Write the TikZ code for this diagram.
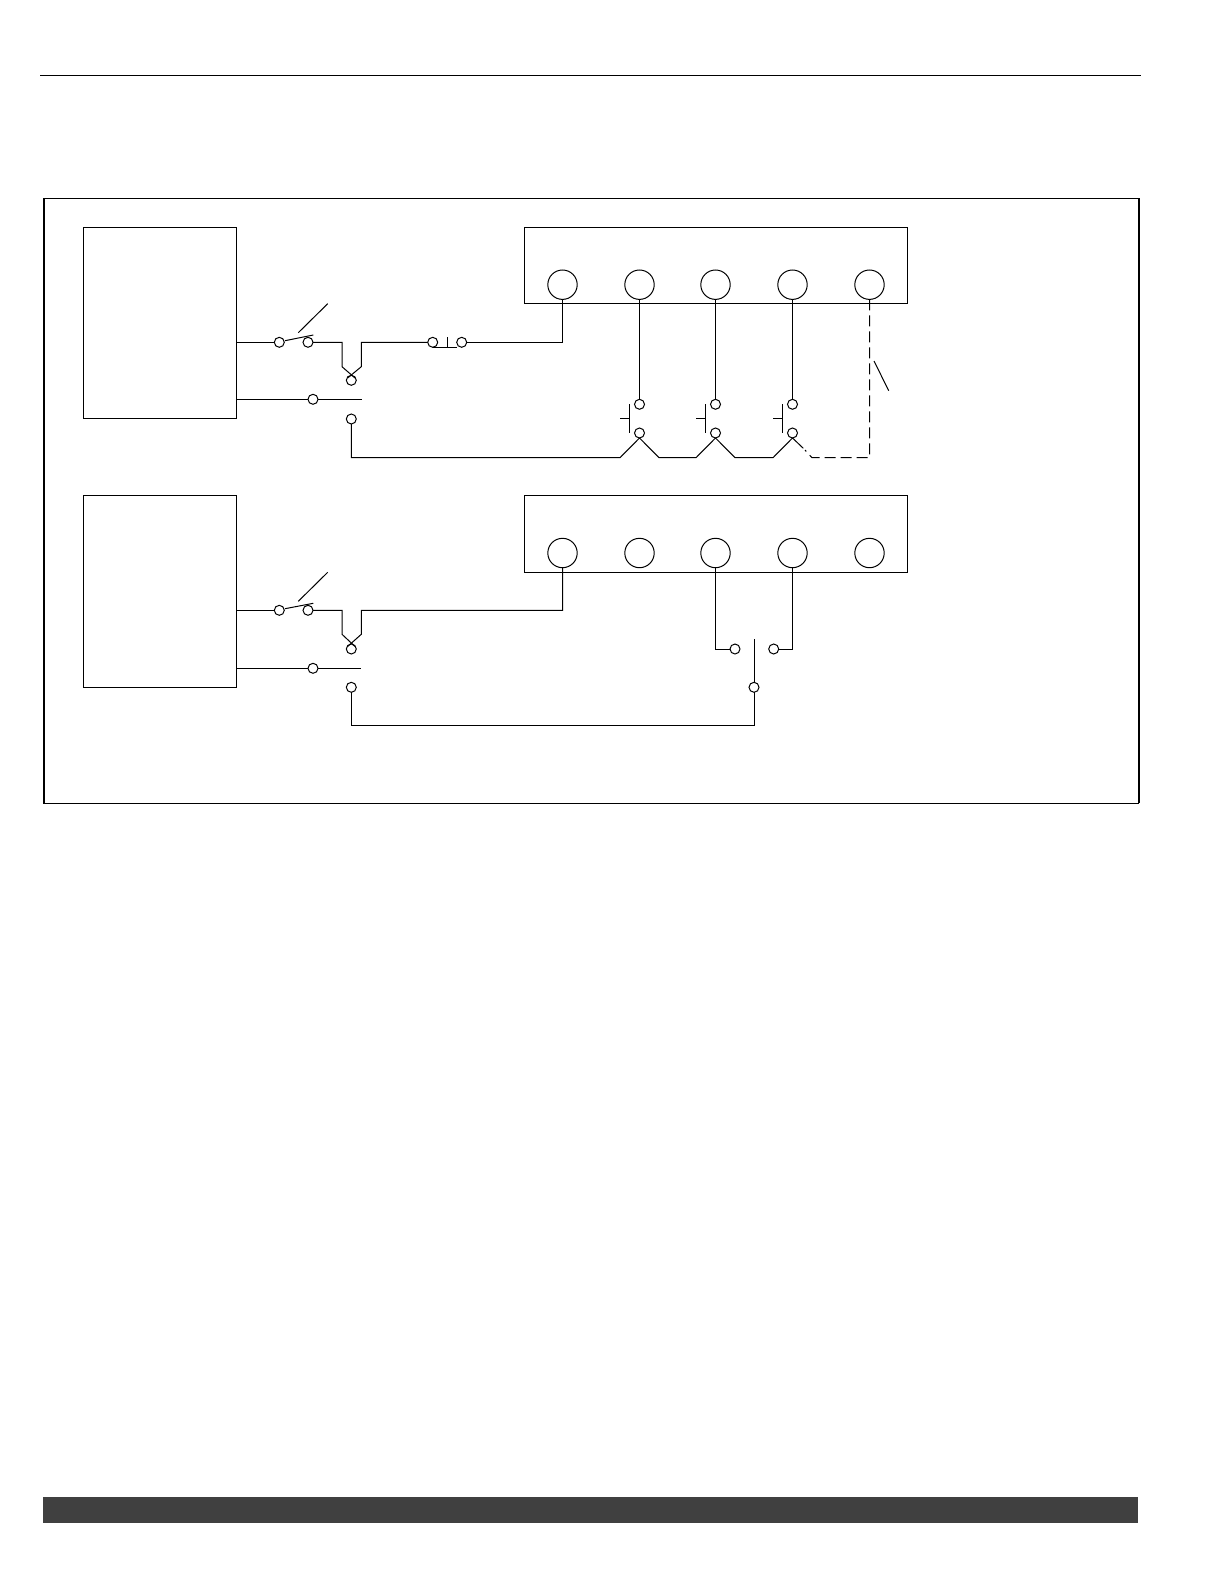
\documentclass[tikz,border=0pt]{standalone}
\begin{document}
\begin{tikzpicture}[
 x=1pt,y=-1pt,
 line width=1pt,
 outer sep=0pt,
 inner sep=0pt,
 frame/.style={draw=black,rectangle,line width=1.2pt,minimum width=1094.7pt,minimum height=605pt},
 source/.style={draw=black,rectangle,minimum width=153.4pt,minimum height=191pt},
 block/.style={draw=black,rectangle,minimum width=383.3pt,minimum height=76.6pt},
 pin/.style={draw=black,circle,minimum size=29.4pt},
 term/.style={draw=black,circle,minimum size=10pt},
 band/.style={fill=black!75,rectangle,minimum width=1095pt,minimum height=26pt}
]
\useasboundingbox (0,0) rectangle (1224,1584);
% page furniture
\coordinate (rule-l) at (40,75.3);
\coordinate (rule-r) at (1141,75.3);
\draw [line width=1.2pt] (rule-l) -- (rule-r);
\node (bottom-band) [band] at (590.5,1510) {};
\node (main-frame) [frame] at (591.35,500.8) {};
\draw [line width=2.5pt] (main-frame.north west) -- (main-frame.south west);
\draw [line width=2pt] (main-frame.north east) -- (main-frame.south east);
% boxes
\node (source1-box) [source] at (160,322.8) {};
\node (source2-box) [source,minimum height=191.6pt] at (160,591.5) {};
\node (block1-box) [block] at (715.65,265.4) {};
\node (block2-box) [block] at (715.65,533.7) {};
\foreach \n/\x in {1/562.5,2/639.5,3/715.5,4/792.5,5/869.5} {
  \node (pin1-\n) [pin] at (\x,284.7) {};
  \node (pin2-\n) [pin] at (\x,553) {};
}
% upper circuit
\node (sw1-a) [term] at (279.3,342.3) {};
\node (sw1-b) [term] at (308,342.3) {};
\node (sw1-low) [term] at (351.3,380.3) {};
\node (sw1-com) [term] at (313,399.3) {};
\node (sw1-nc) [term] at (351.3,419) {};
\node (fuse-a) [term] at (432.7,342.3) {};
\node (fuse-b) [term] at (461.7,342.3) {};
\coordinate (blade1-a) at (285,340.7);
\coordinate (blade1-b) at (313.3,335);
\coordinate (tag1-a) at (298.3,332.7);
\coordinate (tag1-b) at (327.7,303.7);
\coordinate (u1-a) at (342,342.3);
\coordinate (u1-b) at (342,366.7);
\coordinate (u1-c) at (361.3,366.7);
\coordinate (u1-d) at (361.3,342.3);
\coordinate (x1-a) at (355,378);
\coordinate (x1-b) at (347.6,378);
\coordinate (com1-end) at (362,399.3);
\coordinate (fuse-bar-a) at (433.3,347.3);
\coordinate (fuse-bar-b) at (457,347.3);
\coordinate (fuse-bar-c) at (447.3,347.3);
\coordinate (fuse-bar-d) at (447.3,337);
\draw (source1-box.east |- sw1-a) -- (sw1-a);
\draw (blade1-a) -- (blade1-b);
\draw (tag1-a) -- (tag1-b);
\draw (sw1-b) -- (u1-a) -- (u1-b) -- (x1-a);
\draw (x1-b) -- (u1-c) -- (u1-d) -- (fuse-a);
\draw (fuse-bar-a) -- (fuse-bar-b);
\draw (fuse-bar-c) -- (fuse-bar-d);
\draw (fuse-b) -| (pin1-1);
\draw (source1-box.east |- sw1-com) -- (sw1-com) -- (com1-end);
% push buttons
\foreach \n/\x in {2/639.5,3/715.5,4/792.5} {
  \node (btn\n-up) [term] at (\x,404.3) {};
  \node (btn\n-lo) [term] at (\x,433) {};
  \coordinate (bar\n-a) at (\x-9.6,404.3);
  \coordinate (bar\n-b) at (\x-9.6,433.3);
  \coordinate (stub\n-a) at (\x-9.6,418.7);
  \coordinate (stub\n-b) at (\x-19.6,418.7);
  \coordinate (zig\n-l) at (\x-19.3,457.5);
  \coordinate (zig\n-r) at (\x+19.3,457.5);
  \draw (bar\n-a) -- (bar\n-b);
  \draw (stub\n-a) -- (stub\n-b);
  \draw (pin1-\n) -- (btn\n-up);
}
\coordinate (zig-end) at (803.3,448.3);
\coordinate (dash-end) at (805,450);
\draw (sw1-nc) |- (zig2-l) -- (btn2-lo.south) -- (zig2-r) -- (zig3-l) -- (btn3-lo.south) -- (zig3-r) -- (zig4-l) -- (btn4-lo.south) -- (zig-end);
\draw [dash pattern=on 11pt off 5pt] (pin1-5) |- (zig4-r) -- (dash-end);
\coordinate (tag2-a) at (874,361);
\coordinate (tag2-b) at (888.7,390.7);
\draw (tag2-a) -- (tag2-b);
% lower circuit
\node (sw2-a) [term] at (279.3,610.3) {};
\node (sw2-b) [term] at (308,610.3) {};
\node (sw2-low) [term] at (351.3,649) {};
\node (sw2-com) [term] at (313,668.3) {};
\node (sw2-nc) [term] at (351.3,687.3) {};
\node (sel-com) [term] at (754,687.3) {};
\node (sel-a) [term] at (735,649) {};
\node (sel-b) [term] at (773.7,649) {};
\coordinate (blade2-a) at (285,608.7);
\coordinate (blade2-b) at (313.3,603.3);
\coordinate (tag3-a) at (298.3,601.3);
\coordinate (tag3-b) at (327.7,572.3);
\coordinate (u2-a) at (342,610.3);
\coordinate (u2-b) at (342,634.3);
\coordinate (u2-c) at (361.3,634.3);
\coordinate (u2-d) at (361.3,610.3);
\coordinate (x2-a) at (355,646.5);
\coordinate (x2-b) at (347.6,646.5);
\coordinate (com2-end) at (361,668.3);
\coordinate (sel-top) at (754,639);
\coordinate (sel-low) at (754,725.3);
\draw (source2-box.east |- sw2-a) -- (sw2-a);
\draw (blade2-a) -- (blade2-b);
\draw (tag3-a) -- (tag3-b);
\draw (sw2-b) -- (u2-a) -- (u2-b) -- (x2-a);
\draw (x2-b) -- (u2-c) -- (u2-d) -| (pin2-1);
\draw (source2-box.east |- sw2-com) -- (sw2-com) -- (com2-end);
\draw (sw2-nc) |- (sel-low) -- (sel-com) -- (sel-top);
\draw (pin2-3) |- (sel-a);
\draw (pin2-4) |- (sel-b);
\end{tikzpicture}
\end{document}
